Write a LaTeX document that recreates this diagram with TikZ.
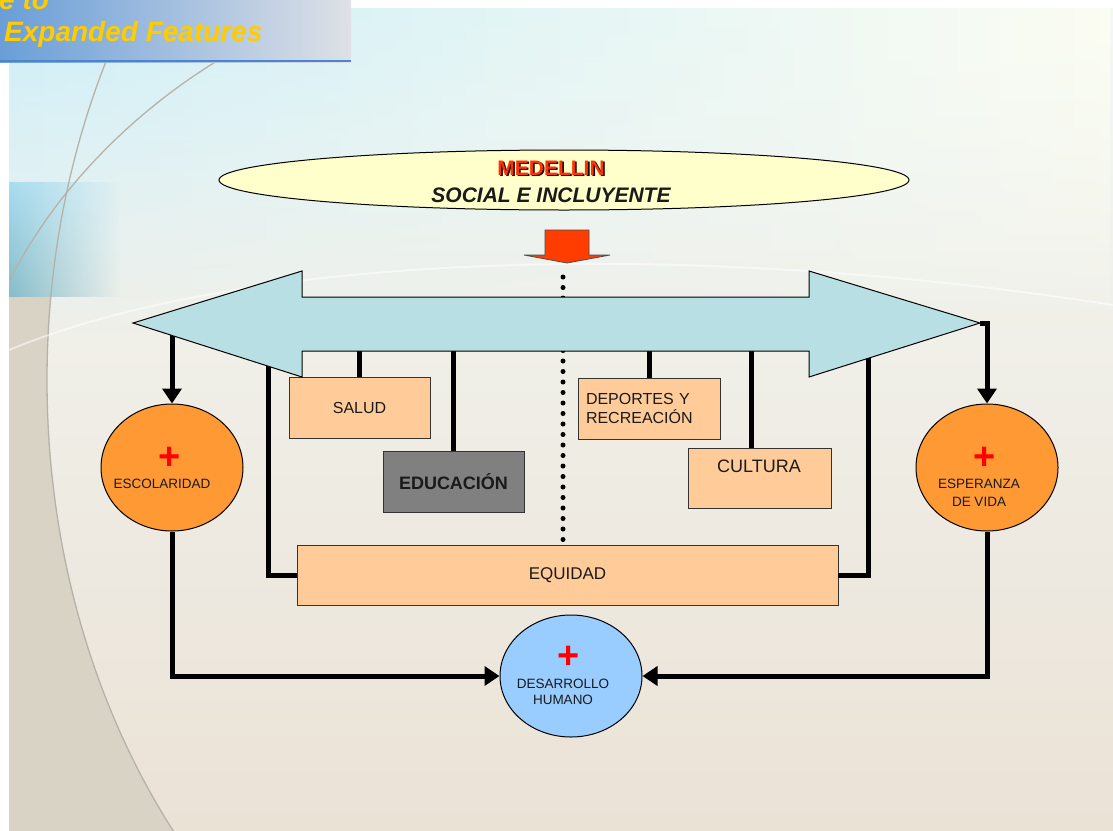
\documentclass[tikz,border=0pt]{standalone}
\usepackage{fontspec}
\setmainfont{Liberation Sans}
\usetikzlibrary{arrows.meta,shapes.geometric,fadings}
\definecolor{yellowfill}{HTML}{FFFFCC}
\definecolor{arrowfill}{HTML}{B8DFE3}
\definecolor{boxfill}{HTML}{FFCC99}
\definecolor{educfill}{HTML}{808080}
\definecolor{orangefill}{HTML}{FF9933}
\definecolor{bluefill}{HTML}{99CCFF}
\definecolor{medred}{HTML}{FF3300}
\definecolor{redarrow}{HTML}{FF3D00}
\definecolor{gold}{HTML}{FFCC00}
\definecolor{bannerL}{HTML}{6A9ED8}
\definecolor{bannerR}{HTML}{DEE1E6}
\definecolor{bannerline}{HTML}{4A86CF}
\definecolor{bgTop}{HTML}{F3F8F5}
\definecolor{bgMid}{HTML}{F4F1EA}
\definecolor{bgBot}{HTML}{EBE2D6}
\definecolor{topL}{HTML}{CDEEF8}
\definecolor{topM}{HTML}{B2D6DC}
\definecolor{topR}{HTML}{FCFDF2}
\definecolor{bgDark}{HTML}{D8D3C4}
\definecolor{stripeT}{HTML}{A8DCEF}
\definecolor{stripeB}{HTML}{86BCC9}
\definecolor{arcgray}{HTML}{B5B2AA}
\definecolor{txt}{HTML}{1A1A1A}
\newcommand\MedShadow[1]{\makebox[0pt][l]{\hspace{1.6pt}\raisebox{-1.6pt}{\color{black}#1}}{\color{medred}#1}}
\tikzset{
  conn/.style={line width=5pt, draw=black},
  tipd/.style={-{Triangle[length=15pt,width=19pt]}},
  box/.style={draw=black!80, line width=0.9pt, fill=boxfill, inner sep=0pt, text=txt,
    font=\fontsize{16}{19.2}\selectfont},
  circ/.style={ellipse, draw=black, line width=1pt, inner sep=0pt},
  lbl/.style={text=txt, inner sep=0pt, align=center},
  plus/.style={text=red, font=\bfseries\fontsize{38}{38}\selectfont, inner sep=0pt},
  bigarrow/.style={draw=black, line width=1pt, fill=arrowfill, line join=miter},
}
\begin{document}
\begin{tikzpicture}[x=1pt,y=-1pt]
\useasboundingbox (0,0) rectangle (1113,830);
\fill[white] (0,0) rectangle (1113,830);
% background
\begin{scope}
  \clip (9,8) rectangle (1113,830);
  \shade[top color=bgTop, middle color=bgMid, bottom color=bgBot] (9,8) rectangle (1113,830);
  \shade[left color=topL, middle color=topM, right color=topR, path fading=south] (9,8) rectangle (1113,330);
  \shade[top color=stripeT, bottom color=stripeB, path fading=east] (9,183) rectangle (120,297);
  \begin{scope}
    \clip (9,297) rectangle (420,830);
    \fill[bgDark, even odd rule] (0,0) rectangle (1200,900) (620,380) ellipse [x radius=573pt, y radius=720pt];
  \end{scope}
  \begin{scope}
    \clip (9,8) rectangle (420,830);
    \draw[arcgray, line width=1.3pt] (620,380) ellipse [x radius=573pt, y radius=720pt];
  \end{scope}
  \draw[arcgray, line width=1.3pt] (232,52) .. controls (140,105) and (50,190) .. (0,300);
  \draw[white, opacity=0.5, line width=2pt] (9,350) .. controls (250,250) and (700,240) .. (1113,305);
\end{scope}
% banner
\shade[left color=bannerL, right color=bannerR] (0,0) rectangle (351,62);
\draw[bannerline, line width=2pt] (0,61) -- (351,61);
\node[anchor=base west, inner sep=0pt, text=gold, font=\bfseries\itshape\fontsize{28}{30}\selectfont] (bt1) at (-1,9) {e to};
\node[anchor=base west, inner sep=0pt, text=gold, font=\bfseries\itshape\fontsize{28}{30}\selectfont] (bt2) at (4,41) {Expanded Features};

% title ellipse
\node[ellipse, draw=black, line width=1pt, fill=yellowfill, minimum width=690pt, minimum height=60pt, inner sep=0pt] (ell) at (564,180) {};
\node[lbl, font=\bfseries\fontsize{21}{27}\selectfont] (title) at (551,181.5) {\MedShadow{MEDELLIN}\\\itshape SOCIAL E INCLUYENTE};

% boxes
\node[box, minimum width=141pt, minimum height=61pt] (salud) at (359.5,407.5) {SALUD};
\node[box, fill=educfill, minimum width=141pt, minimum height=61pt, font=\bfseries\fontsize{18}{21}\selectfont] (educ) at (453.5,481.5) {EDUCACIÓN};
\node[box, text width=126pt, inner xsep=8pt, align=left, minimum height=61pt] (dep) at (649,408.5) {DEPORTES Y\\RECREACIÓN};
\node[box, minimum width=143pt, minimum height=60pt] (cult) at (759.5,478) {};
\node[lbl, font=\fontsize{18}{21}\selectfont] (cultT) at (759,466) {CULTURA};
\node[box, minimum width=541pt, minimum height=60pt, font=\fontsize{17}{20}\selectfont] (equi) at (567.5,575) {EQUIDAD};

% circles
\node[circ, fill=orangefill, minimum width=142pt, minimum height=127pt] (esc) at (172,467.5) {};
\node[plus] (escP) at (170,458) {+};
\node[lbl, font=\fontsize{13.5}{16}\selectfont] (escT) at (162,484) {ESCOLARIDAD};
\node[circ, fill=orangefill, minimum width=142pt, minimum height=127pt] (esp) at (987,467.5) {};
\node[plus] (espP) at (985,458) {+};
\node[lbl, font=\fontsize{13.5}{18}\selectfont] (espT) at (979,493) {ESPERANZA\\DE VIDA};
\node[circ, fill=bluefill, minimum width=142pt, minimum height=122pt] (des) at (571,676) {};
\node[plus] (desP) at (569,657) {+};
\node[lbl, font=\fontsize{13.5}{16}\selectfont] (desT) at (563,692) {DESARROLLO\\HUMANO};

% arrow geometry
\coordinate (bigL) at (133,323);
\coordinate (bigR) at (980,323);
\coordinate (lbr) at (268,323);
\coordinate (rbr) at (868,323);
\coordinate (cultc) at (751,323);
\coordinate (dtop) at (563,277);

% dotted connector
\draw[line width=5pt, line cap=round, dash pattern=on 0pt off 10.5pt] (dtop) -- (dtop |- equi.north);

% connectors from the arrow
\draw[conn] (salud.north |- bigL) -- (salud.north);
\draw[conn] (educ.north |- bigL) -- (educ.north);
\draw[conn] (dep.north |- bigL) -- (dep.north);
\draw[conn] (cultc) -- (cultc |- cult.north);
\draw[conn] (lbr) |- (equi.west);
\draw[conn] (rbr) |- (equi.east);
\draw[conn, tipd] (esc.north |- bigL) -- (esc.north);
\draw[conn, tipd] (bigR) -| (esp.north);
\draw[conn, tipd] (esc.south) |- (des.west);
\draw[conn, tipd] (esp.south) |- (des.east);

% big double arrow
\draw[bigarrow] (bigL) -- (302,271) -- (302,297) -- (809,297) -- (809,271) -- (bigR)
  -- (809,377) -- (809,351) -- (302,351) -- (302,377) -- cycle;

% red down arrow
\draw[fill=redarrow, draw=black!70, line width=0.8pt] (545,230) -- (589,230) -- (589,255) -- (610,255)
  -- (567,263) -- (524,255) -- (545,255) -- cycle;
\end{tikzpicture}
\end{document}
